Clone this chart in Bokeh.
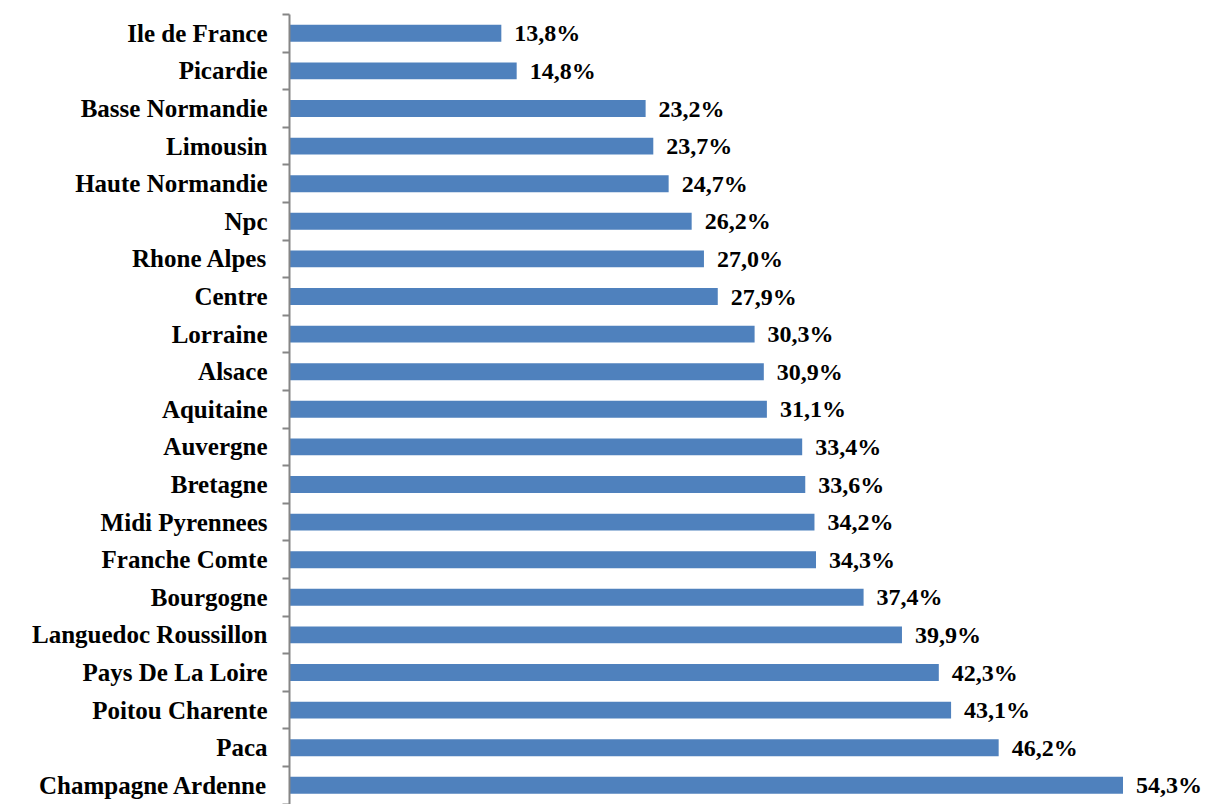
from bokeh.plotting import figure
from bokeh.models import Range1d, FixedTicker, ColumnDataSource
from bokeh.core.properties import value
from bokeh.embed import file_html
from bokeh.resources import INLINE

regions = ["Ile de France", "Picardie", "Basse Normandie", "Limousin", "Haute Normandie",
           "Npc", "Rhone Alpes", "Centre", "Lorraine", "Alsace", "Aquitaine", "Auvergne",
           "Bretagne", "Midi Pyrennees", "Franche Comte", "Bourgogne", "Languedoc Roussillon",
           "Pays De La Loire", "Poitou Charente", "Paca", "Champagne Ardenne"]
values = [13.8, 14.8, 23.2, 23.7, 24.7, 26.2, 27.0, 27.9, 30.3, 30.9, 31.1, 33.4,
          33.6, 34.2, 34.3, 37.4, 39.9, 42.3, 43.1, 46.2, 54.3]

labels = [f"{v:.1f}".replace(".", ",") + "%" for v in values]
pos = list(range(len(regions)))

W, H = 1205, 804
left, top = 289, 14
step = 37.6
scale = 15.35
frame_h = H - top
frame_w = W - left

src = ColumnDataSource(dict(y=pos, v=values, lab=labels, name=regions))

p = figure(width=W, height=H, output_backend="svg", toolbar_location=None,
           x_range=Range1d(0, frame_w / scale),
           y_range=Range1d(-0.5 + frame_h / step, -0.5),
           min_border_left=left, min_border_top=top, min_border_bottom=0, min_border_right=0)
p.outline_line_color = None
p.grid.visible = False
p.xaxis.visible = False
p.background_fill_color = "white"

p.hbar(y="y", right="v", left=0, height=0.45, source=src, color="#4F81BD", line_color=None)
p.text(x="v", y="y", text="lab", source=src, x_offset=13, text_align="left",
       text_baseline="middle", text_font=value("Liberation Serif"), text_font_style="bold",
       text_font_size="24px", text_color="black")

ax = p.yaxis[0]
ax.ticker = FixedTicker(ticks=pos, minor_ticks=[i - 0.5 for i in range(len(regions) + 1)])
ax.major_label_overrides = {i: r for i, r in enumerate(regions)}
ax.major_tick_out = 0
ax.major_tick_in = 0
ax.minor_tick_out = 7
ax.minor_tick_in = 0
ax.minor_tick_line_color = "#868686"
ax.minor_tick_line_width = 2
ax.axis_line_color = "#868686"
ax.axis_line_width = 2
ax.major_label_standoff = 15
ax.major_label_text_font = "Liberation Serif"
ax.major_label_text_font_style = "bold"
ax.major_label_text_font_size = "25px"
ax.major_label_text_color = "black"

open("out.html", "w").write(file_html(p, INLINE))
